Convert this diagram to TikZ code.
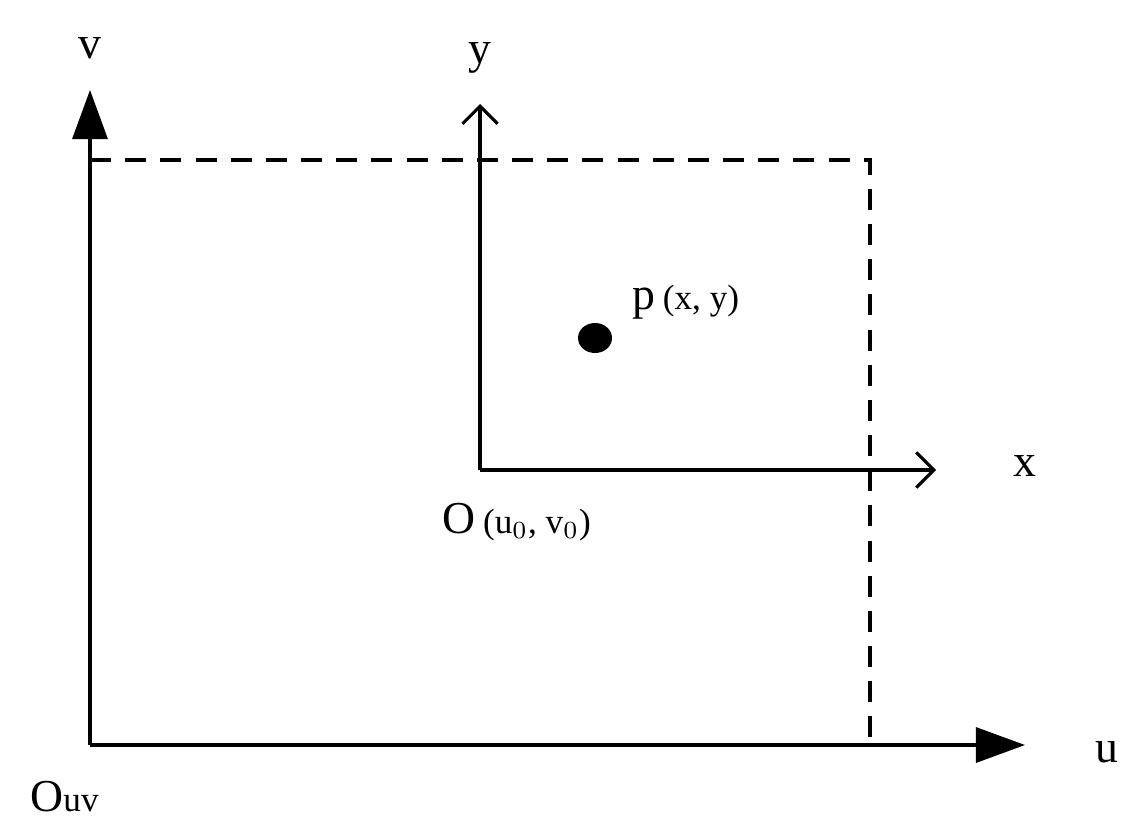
\documentclass[tikz,border=0pt]{standalone}
\usepackage{fontspec}
\setmainfont{Liberation Serif}
\usetikzlibrary{arrows.meta}
\begin{document}
\begin{tikzpicture}[x=0.01cm,y=-0.01cm,
  ax/.style={line width=0.9pt},
  big/.style={font=\fontsize{13}{15}\selectfont},
  sm/.style={font=\fontsize{10}{12}\selectfont}]
\useasboundingbox (0,0) rectangle (1146,833);
\coordinate (O) at (90,745);
\coordinate (vt) at (90,90);
\coordinate (ut) at (1025,745);
\coordinate (o) at (480,470);
\coordinate (yt) at (480,104);
\coordinate (xt) at (936,470);
\coordinate (d1) at (90,160);
\coordinate (d2) at (870,160);
\coordinate (d3) at (870,745);
\draw[ax,-{Triangle[length=14pt,width=10pt]}] (O) -- (vt);
\draw[ax,-{Triangle[length=14pt,width=10pt]}] (O) -- (ut);
\draw[ax,dash pattern=on 6pt off 4pt] (d1) -- (d2) -- (d3);
\draw[ax,-{Straight Barb[length=5pt,width=10pt]}] (o) -- (yt);
\draw[ax,-{Straight Barb[length=5pt,width=10pt]}] (o) -- (xt);
\fill (595,338) ellipse [x radius=17, y radius=15];
\node[big] (lv) at (90,48) {v};
\node[big] (ly) at (480,58) {y};
\node[big] (lx) at (1025,466) {x};
\node[big] (lu) at (1107,752) {u};
\node[anchor=west,big] (lp) at (620,302) {p\,{\fontsize{10}{12}\selectfont(x, y)}};
\node[anchor=west,big] (lo) at (430,522) {O\,{\fontsize{10}{12}\selectfont(u$_0$, v$_0$)}};
\node[anchor=west,big] (luv) at (18,797) {O{\fontsize{10}{12}\selectfont uv}};
\end{tikzpicture}
\end{document}
